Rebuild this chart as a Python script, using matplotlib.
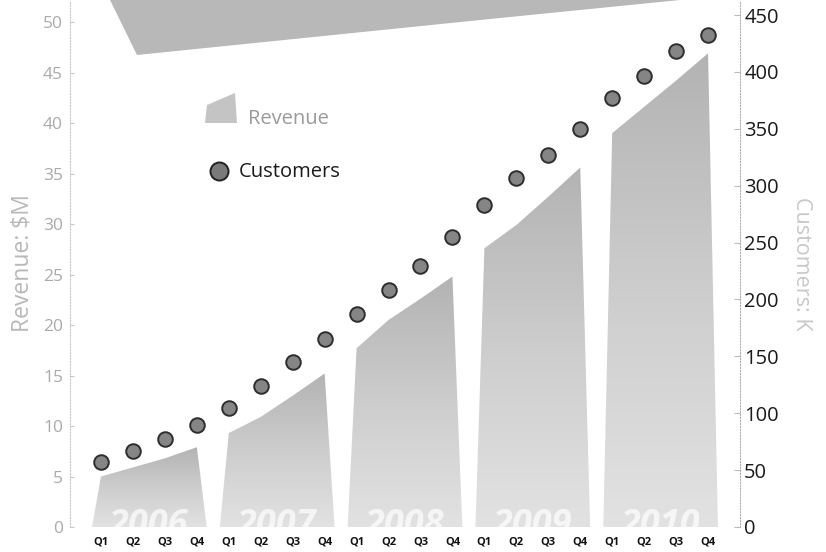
import numpy as np
import matplotlib
matplotlib.use("Agg")
from matplotlib import pyplot as plt
from matplotlib.patches import Polygon
from matplotlib.colors import LinearSegmentedColormap

plt.rcParams['font.family'] = ['Open Sans', 'DejaVu Sans']

years = ["2006", "2007", "2008", "2009", "2010"]
quarters = ["Q1", "Q2", "Q3", "Q4"]
revenue = [5.0, 5.9, 6.8, 7.9,
           9.3, 10.9, 13.0, 15.2,
           17.7, 20.5, 22.6, 24.8,
           27.6, 29.9, 32.7, 35.6,
           39.0, 41.6, 44.2, 46.9]
customers = [57, 67, 77, 90, 105, 124, 145, 165,
             187, 208, 229, 255, 283, 307, 327, 350,
             377, 396, 418, 432]
rev_ticks = [0, 5, 10, 15, 20, 25, 30, 35, 40, 45, 50]
cust_ticks = [0, 50, 100, 150, 200, 250, 300, 350, 400, 450]

W, H = 826, 552
fig = plt.figure(figsize=(W / 100, H / 100), dpi=100)
ax = fig.add_axes([70 / W, 25 / H, 670 / W, 527 / H])
ax2 = ax.twinx()

x = np.arange(len(revenue))
ax.set_xlim(-0.97, 20.0)
ax.set_ylim(0, 52.18)
ax2.set_ylim(0, 463.2)


def fig_poly(pix, color):
    # polygon given in pixels from the top-left corner
    p = Polygon([(px / W, 1 - py / H) for px, py in pix], closed=True,
                facecolor=color, edgecolor='none', transform=fig.transFigure)
    fig.patches.append(p)
    return p


# title banner, mostly cut off at the top
fig_poly([(110, 0), (137, 55), (500, 18), (680, 0)], '#b8b8b8')

grad = LinearSegmentedColormap.from_list("g", ["#e2e2e2", "#cdcdcd", "#b3b3b3"])
for i, yr in enumerate(years):
    xs = x[4 * i:4 * i + 4]
    vs = revenue[4 * i:4 * i + 4]
    pts = [(xs[0] - 0.28, 0)] + list(zip(xs, vs)) + [(xs[-1] + 0.31, 0)]
    poly = Polygon(pts, closed=True, facecolor='none', edgecolor='none')
    ax.add_patch(poly)
    g = np.linspace(0, 1, 200).reshape(-1, 1)
    im = ax.imshow(g, cmap=grad, origin='lower', aspect='auto',
                   extent=(xs[0] - 0.4, xs[-1] + 0.4, 0, max(vs)), zorder=1)
    im.set_clip_path(poly)
    # year names sit at the foot of each block, cut by the axis
    ax.text(xs.mean(), 1.9, yr, ha='center', va='top', fontsize=26,
            fontweight='bold', fontstyle='italic', color='white', alpha=0.7,
            zorder=2, clip_on=True)

ax2.plot(x, customers, 'o', ms=10.5, mfc='#858585', mec='#2e2e2e', mew=1.4, zorder=3)

ax.set_xticks(x)
ax.set_xticklabels(quarters * len(years), fontsize=8, fontweight='bold', color='#111')
ax.tick_params(axis='x', length=0, pad=7)

ax.set_yticks(rev_ticks)
ax.tick_params(axis='y', direction='in', length=3, color='#c8c8c8', labelsize=12.5,
               labelcolor='#aaaaaa', pad=5)
ax2.set_yticks(cust_ticks)
ax2.tick_params(axis='y', direction='in', length=4, color='#bbbbbb', labelsize=14.5,
                labelcolor='#1a1a1a', pad=3)

for a in (ax, ax2):
    a.spines['top'].set_visible(False)
    a.spines['bottom'].set_visible(False)
ax.spines['right'].set_visible(False)
ax2.spines['left'].set_visible(False)
ax.spines['left'].set_linestyle(':')
ax.spines['left'].set_color('#c8c8c8')
ax2.spines['right'].set_linestyle(':')
ax2.spines['right'].set_color('#b0b0b0')

ax.set_ylabel("Revenue: $M", fontsize=16.5, color='#b8b8b8', labelpad=6)
ax2.set_ylabel("Customers: K", fontsize=15.5, color='#c8c8c8', rotation=270, labelpad=24)

# legend
fig_poly([(205, 123), (207, 105), (235, 93), (237, 123)], '#c4c4c4')
fig.text(248 / W, 1 - 119 / H, "Revenue", fontsize=14.5, color='#9a9a9a', va='center')
fig.lines.append(plt.Line2D([219 / W], [1 - 171 / H], transform=fig.transFigure,
                            marker='o', ms=13, mfc='#7a7a7a', mec='#222222', mew=1.4))
fig.text(239 / W, 1 - 172 / H, "Customers", fontsize=14.5, color='#1a1a1a', va='center')

fig.savefig("out.png", dpi=100)
